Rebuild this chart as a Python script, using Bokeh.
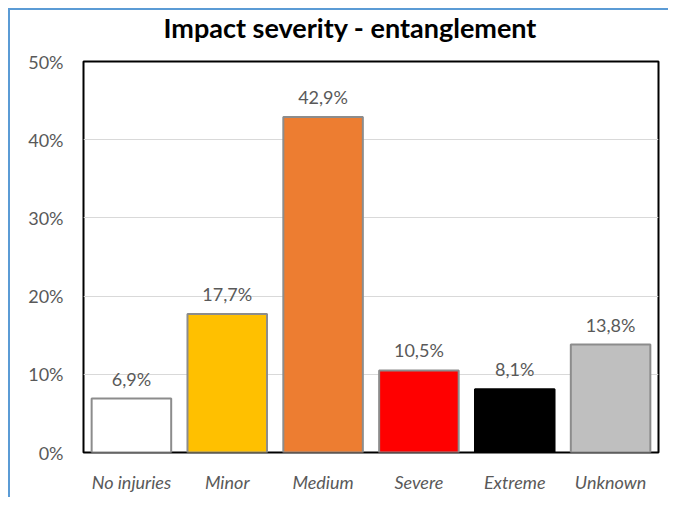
from bokeh.plotting import figure
from bokeh.models import ColumnDataSource, LabelSet, Title, FixedTicker, NumeralTickFormatter, Range1d, FactorRange
from bokeh.core.properties import value
from bokeh.embed import file_html
from bokeh.resources import INLINE

categories = ["No injuries", "Minor", "Medium", "Severe", "Extreme", "Unknown"]
values = [0.069, 0.177, 0.429, 0.105, 0.081, 0.138]
fill_colors = ["#FFFFFF", "#FFC000", "#ED7D31", "#FF0000", "#000000", "#BFBFBF"]
line_colors = ["#8C8C8C", "#8C8C8C", "#8C8C8C", "#8C8C8C", "#000000", "#8C8C8C"]
y_ticks = [0, 0.1, 0.2, 0.3, 0.4, 0.5]
title_text = "Impact severity - entanglement"

labels = [f"{v * 100:.1f}%".replace(".", ",") for v in values]
src = ColumnDataSource(dict(cat=categories, val=values, fill=fill_colors,
                            line=line_colors, lab=labels))

FONT = "Lato"
TXT = "#595959"

p = figure(x_range=FactorRange(*categories, range_padding=0), y_range=Range1d(0, 0.5),
           width=660, height=489, output_backend="svg", toolbar_location=None,
           min_border_left=73, min_border_right=12, min_border_top=51, min_border_bottom=47,
           styles={"border-top": "2px solid #5B9BD5", "border-left": "2px solid #5B9BD5",
                   "margin-left": "8px", "margin-top": "8px"})

p.title.text = title_text
p.title.text_font = FONT
p.title.text_font_size = "27px"
p.title.text_font_style = "bold"
p.title.text_color = "#000000"
p.title.align = "left"
p.title.offset = 80
p.title.vertical_align = "top"
p.title.standoff = 0

# empty spacer between the title and the plot frame
p.add_layout(Title(text=" ", text_font_size="10px", standoff=3), "above")

p.vbar(x="cat", top="val", width=0.83, source=src, fill_color="fill",
       line_color="line", line_width=2)

p.add_layout(LabelSet(x="cat", y="val", text="lab", source=src, y_offset=9,
                      text_align="center", text_baseline="bottom",
                      text_font=value(FONT), text_font_size=value("18px"), text_color=TXT))

p.outline_line_color = "#000000"
p.outline_line_width = 2
p.background_fill_color = "#FFFFFF"
p.border_fill_color = "#FFFFFF"

p.xgrid.grid_line_color = None
p.ygrid.grid_line_color = "#D9D9D9"
p.ygrid.grid_line_width = 1

p.yaxis.ticker = FixedTicker(ticks=y_ticks)
p.yaxis.formatter = NumeralTickFormatter(format="0%")
for ax in (p.xaxis, p.yaxis):
    ax.axis_line_color = None
    ax.major_tick_line_color = None
    ax.minor_tick_line_color = None
    ax.major_tick_out = 0
    ax.major_tick_in = 0
    ax.major_label_text_font = FONT
    ax.major_label_text_font_size = "18px"
    ax.major_label_text_color = TXT
p.yaxis.major_label_standoff = 20
p.xaxis.major_label_standoff = 18
p.xaxis.major_label_text_font_style = "italic"

open("out.html", "w").write(file_html(p, INLINE))
